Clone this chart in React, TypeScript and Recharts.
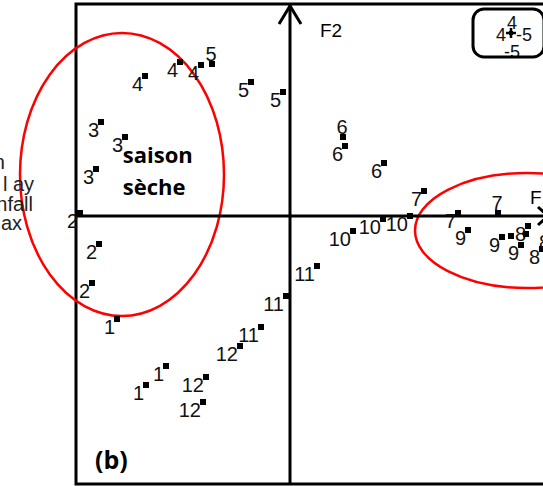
import React from 'react';
import {
  ScatterChart,
  Scatter,
  XAxis,
  YAxis,
  ReferenceLine,
  ReferenceArea,
  ReferenceDot,
} from 'recharts';

// Month number of each observation (three years of monthly scores)
const MONTHS = [
  '4', '4', '4', '5', '5', '5', '3', '3', '3', '2', '2', '2',
  '1', '1', '1', '12', '12', '12', '11', '11', '11', '6', '6', '6',
  '7', '10', '10', '10', '7', '7', '9', '9', '9', '8', '8', '8', '', '',
];

// Scores on the first factorial axis
const F1 = [
  -3.625, -2.75, -2.225, -1.95, -0.975, -0.175, -4.725, -4.125, -4.85, -5.25, -4.775, -4.95,
  -4.325, -3.1, -3.6, -2.1, -2.175, -1.25, -0.725, -0.1, 0.675, 1.325, 1.375, 2.35,
  3.35, 1.575, 2.325, 3.0, 4.2, 5.2, 4.45, 5.3, 5.775, 5.95, 6.3, 6.55, 5.525, 5.9,
];

// Scores on the second factorial axis
const F2 = [
  3.5, 3.85, 3.775, 3.8, 3.35, 3.1, 2.35, 1.975, 1.175, 0.075, -0.7, -1.675,
  -2.575, -3.75, -4.225, -4.025, -4.65, -3.25, -2.775, -2.0, -1.25, 1.975, 1.75, 1.325,
  0.625, -0.375, -0.075, 0, 0.075, 0.075, -0.35, -0.525, -0.725, -0.25, -0.825, -0.45, -0.5, -0.45,
];

// Observations whose month number is written above the marker
const LABEL_ABOVE = [3, 21, 29];

// Variable names of the neighbouring panel (only their ends are visible)
const VARIABLES = ['Tmin', 'l ay', 'Rainfall', 'Tmax'];
const VARIABLE_F1 = [-7.125, -6.4, -6.425, -6.7];
const VARIABLE_F2 = [1.175, 0.625, 0.125, -0.35];

const X_MIN = -5.35;
const X_MAX = 6.75;
const Y_MIN = -6.7;
const Y_MAX = 5.3;

const points = MONTHS.map((m, i) => ({
  label: m,
  x: F1[i],
  y: F2[i],
  above: LABEL_ABOVE.includes(i),
}));

const LABEL_FONT = '"Liberation Sans", Arial, Helvetica, sans-serif';
const BOLD_FONT = '"Open Sans", "Liberation Sans", Arial, sans-serif';

const PointMark = (props: any) => {
  const { cx, cy, payload } = props;
  if (cx == null || cy == null) return <g />;
  return (
    <g>
      <rect x={cx - 3} y={cy - 3} width={6} height={6} fill="#000" />
      {payload.label !== '' &&
        (payload.above ? (
          <text
            x={cx - 1}
            y={cy - 3}
            textAnchor="middle"
            fontFamily={LABEL_FONT}
            fontSize={20}
            fill="#111"
          >
            {payload.label}
          </text>
        ) : (
          <text
            x={cx - 2}
            y={cy + 15}
            textAnchor="end"
            fontFamily={LABEL_FONT}
            fontSize={20}
            fill="#111"
          >
            {payload.label}
          </text>
        ))}
    </g>
  );
};

const ellipseShape = (props: any) => {
  const { x, y, width, height } = props;
  const w = Math.abs(width);
  const h = Math.abs(height);
  const left = width < 0 ? x + width : x;
  const top = height < 0 ? y + height : y;
  return (
    <ellipse
      cx={left + w / 2}
      cy={top + h / 2}
      rx={w / 2}
      ry={h / 2}
      fill="none"
      stroke="#ff0000"
      strokeWidth={2.5}
    />
  );
};

const textShape =
  (text: string, opts: { anchor?: string; size?: number; bold?: boolean; font?: string; fill?: string }) =>
  (props: any) => (
    <text
      x={props.cx}
      y={props.cy}
      textAnchor={opts.anchor || 'start'}
      fontSize={opts.size || 19}
      fontWeight={opts.bold ? 700 : 400}
      fontFamily={opts.font || LABEL_FONT}
      fill={opts.fill || '#000'}
    >
      {text}
    </text>
  );

const upArrow = (props: any) => {
  const { cx, cy } = props;
  return (
    <polyline
      points={`${cx - 11},${cy + 18} ${cx},${cy} ${cx + 11},${cy + 18}`}
      fill="none"
      stroke="#000"
      strokeWidth={3}
    />
  );
};

const rightArrow = (props: any) => {
  const { cx, cy } = props;
  return (
    <polyline
      points={`${cx - 10},${cy - 9} ${cx},${cy} ${cx - 10},${cy + 9}`}
      fill="none"
      stroke="#000"
      strokeWidth={3}
    />
  );
};

// Small scale key: a cross with its end values
const scaleKey = (props: any) => {
  const { cx, cy } = props;
  const f = { fontFamily: LABEL_FONT, fontSize: 18, fill: '#111' };
  return (
    <g>
      <text x={cx + 1} y={cy - 4} textAnchor="middle" {...f}>4</text>
      <text x={cx - 5} y={cy + 8} textAnchor="end" {...f}>4</text>
      <text x={cx + 5} y={cy + 8} textAnchor="start" {...f}>-5</text>
      <text x={cx + 1} y={cy + 25} textAnchor="middle" {...f}>-5</text>
      <line x1={cx} y1={cy - 5} x2={cx} y2={cy + 5} stroke="#000" strokeWidth={2.5} />
      <line x1={cx - 5} y1={cy} x2={cx + 5} y2={cy} stroke="#000" strokeWidth={2.5} />
      <rect x={cx - 2} y={cy - 2} width={4} height={4} fill="#000" />
      <rect
        x={cx - 38}
        y={cy - 24}
        width={71}
        height={48}
        rx={11}
        ry={11}
        fill="none"
        stroke="#000"
        strokeWidth={3}
      />
    </g>
  );
};

export default function App() {
  return (
    <div
      style={{
        position: 'absolute',
        left: 0,
        top: 0,
        width: 543,
        height: 486,
        overflow: 'hidden',
        background: '#fff',
      }}
    >
      <ScatterChart
        width={600}
        height={486}
        margin={{ top: 4, right: 40, bottom: 2, left: 76 }}
      >
        <XAxis type="number" dataKey="x" domain={[X_MIN, X_MAX]} hide />
        <YAxis type="number" dataKey="y" domain={[Y_MIN, Y_MAX]} hide />

        {/* panel frame */}
        <ReferenceArea
          x1={X_MIN}
          x2={X_MAX}
          y1={Y_MIN}
          y2={Y_MAX}
          fill="none"
          fillOpacity={0}
          stroke="#000"
          strokeWidth={3}
          ifOverflow="visible"
        />

        {/* factorial axes */}
        <ReferenceLine x={0} stroke="#000" strokeWidth={3} ifOverflow="visible" />
        <ReferenceLine y={0} stroke="#000" strokeWidth={3} ifOverflow="visible" />
        <ReferenceDot x={0} y={5.25} ifOverflow="visible" shape={upArrow} />
        <ReferenceDot x={6.45} y={0} ifOverflow="visible" shape={rightArrow} />
        <ReferenceDot x={0.75} y={4.475} ifOverflow="visible" shape={textShape('F2', { size: 19 })} />
        <ReferenceDot x={6.0} y={0.3} ifOverflow="visible" shape={textShape('F1', { size: 19 })} />

        {/* season groupings */}
        <ReferenceArea
          x1={-6.75}
          x2={-1.65}
          y1={4.575}
          y2={-2.5}
          ifOverflow="visible"
          shape={ellipseShape}
        />
        <ReferenceArea
          x1={3.125}
          x2={8.725}
          y1={1.075}
          y2={-1.8}
          ifOverflow="visible"
          shape={ellipseShape}
        />

        <ReferenceDot
          x={-4.18}
          y={1.325}
          ifOverflow="visible"
          shape={textShape('saison', { size: 22, bold: true, font: BOLD_FONT })}
        />
        <ReferenceDot
          x={-4.18}
          y={0.525}
          ifOverflow="visible"
          shape={textShape('sèche', { size: 22, bold: true, font: BOLD_FONT })}
        />
        <ReferenceDot
          x={-4.875}
          y={-6.325}
          ifOverflow="visible"
          shape={textShape('(b)', { size: 25, bold: true, font: BOLD_FONT })}
        />

        {VARIABLES.map((name, i) => (
          <ReferenceDot
            key={name}
            x={VARIABLE_F1[i]}
            y={VARIABLE_F2[i]}
            ifOverflow="visible"
            shape={textShape(name, { anchor: 'end', size: 20, fill: '#222' })}
          />
        ))}

        <ReferenceDot x={5.525} y={4.575} ifOverflow="visible" shape={scaleKey} />

        <Scatter data={points} shape={PointMark} isAnimationActive={false} />
      </ScatterChart>
    </div>
  );
}
